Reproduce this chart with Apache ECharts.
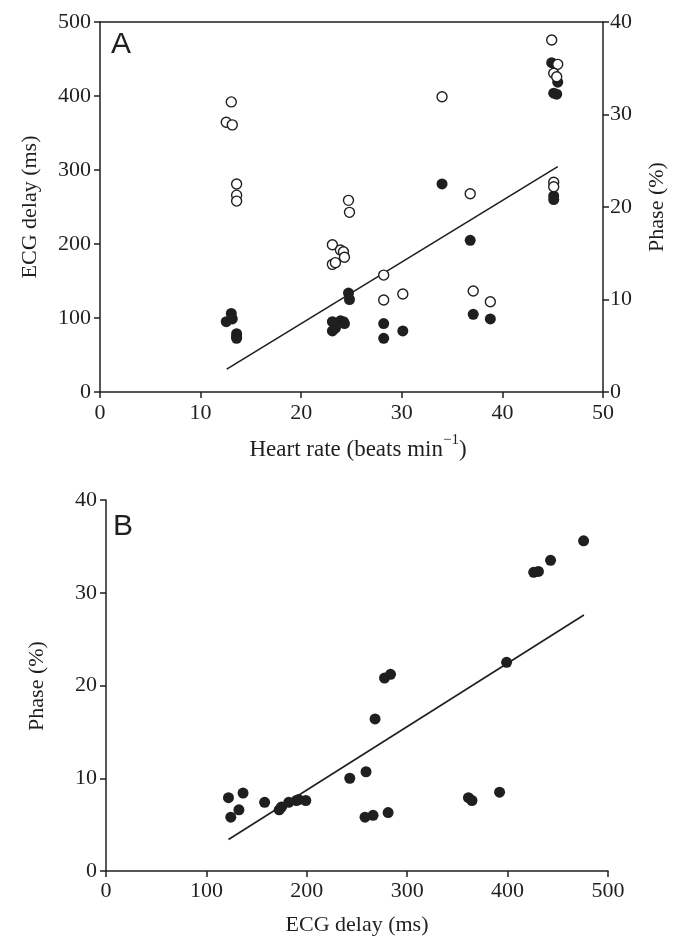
<!DOCTYPE html>
<html><head><meta charset="utf-8">
<script src="https://cdn.jsdelivr.net/npm/echarts@6/dist/echarts.min.js"></script>
<style>html,body{margin:0;padding:0;background:#fff}#c{width:683px;height:947px}</style>
</head><body><div id="c"></div>
<script>
// Individuals: heart rate, ECG delay (ms), phase (%)
const heartRate = [13.05,12.55,13.15,13.58,13.58,13.58, 23.1,23.4,23.1,23.9,24.2,24.3, 24.7,24.8, 28.2,28.2, 30.1, 34.0, 36.8, 37.1, 38.8, 44.9,45.5,45.1,45.4,45.1,45.1];
const ecgDelay  = [392,364.5,361,281,266,258, 172.5,174.8,199,191.9,189.6,182, 259,242.8, 158,124.3, 132.4, 399, 268, 136.5, 122, 475.7,442.8,430.7,426,283.4,277.4];
const phase     = [8.5,7.6,7.9,6.3,6.0,5.8, 6.6,6.9,7.6,7.7,7.6,7.4, 10.7,10.0, 7.4,5.8, 6.6, 22.5, 16.4, 8.4, 7.9, 35.6,33.5,32.3,32.2,21.2,20.8];
// regression lines
const fitAx = [12.6, 45.5], fitAy = [31, 304.5];
const fitBx = [122, 476],   fitBy = [3.4, 27.6];
// ticks
const ticksHR = [0,10,20,30,40,50];
const ticksECG = [0,100,200,300,400,500];
const ticksPhase = [0,10,20,30,40];

const SERIF = 'Liberation Serif';
const INK = '#1f1f1f';
const pairs = (a,b)=>a.map((v,i)=>[v,b[i]]);

function ax(ticks, extra, margin){
  return Object.assign({
    type:'value', min:ticks[0], max:ticks[ticks.length-1], interval:ticks[1]-ticks[0],
    axisLine:{show:true,onZero:false,lineStyle:{color:INK,width:1.5}},
    axisTick:{show:true,inside:false,length:6,lineStyle:{color:INK,width:1.5}},
    axisLabel:{fontFamily:SERIF,fontSize:22,color:INK,margin:margin||8},
    splitLine:{show:false}
  }, extra||{});
}

const chart = echarts.init(document.getElementById('c'), null, {renderer:'canvas'});
chart.setOption({
  backgroundColor:'#fff',
  animation:false,
  grid:[
    {left:100, top:22, width:503, height:370},
    {left:106, top:500, width:502, height:371}
  ],
  xAxis:[
    ax(ticksHR,{gridIndex:0, position:'bottom'},10),
    ax(ticksHR,{gridIndex:0, position:'top', axisTick:{show:false}, axisLabel:{show:false}}),
    ax(ticksECG,{gridIndex:1, position:'bottom'},9)
  ],
  yAxis:[
    ax(ticksECG,{gridIndex:0, position:'left'},9),
    ax(ticksPhase,{gridIndex:0, position:'right'},7),
    ax(ticksPhase,{gridIndex:1, position:'left'},9)
  ],
  series:[
    {type:'line', xAxisIndex:0, yAxisIndex:0, data:pairs(fitAx,fitAy), symbol:'none', lineStyle:{color:INK,width:1.6}, z:1},
    {type:'scatter', xAxisIndex:0, yAxisIndex:1, data:pairs(heartRate,phase), symbol:'circle', symbolSize:11, itemStyle:{color:INK, opacity:1}, z:2},
    {type:'scatter', xAxisIndex:0, yAxisIndex:0, data:pairs(heartRate,ecgDelay), symbol:'circle', symbolSize:10, itemStyle:{color:'#fff', borderColor:INK, borderWidth:1.4, opacity:1}, z:3},
    {type:'line', xAxisIndex:2, yAxisIndex:2, data:pairs(fitBx,fitBy), symbol:'none', lineStyle:{color:INK,width:1.6}, z:1},
    {type:'scatter', xAxisIndex:2, yAxisIndex:2, data:pairs(ecgDelay,phase), symbol:'circle', symbolSize:11, itemStyle:{color:INK, opacity:1}, z:2}
  ],
  graphic:[
    {type:'text', left:111, top:30, style:{text:'A', font:'30px "Liberation Sans"', fill:INK}},
    {type:'text', left:113, top:512, style:{text:'B', font:'30px "Liberation Sans"', fill:INK}},
    {type:'text', x:30, y:207, rotation:Math.PI/2, style:{text:'ECG delay (ms)', font:'22px "Liberation Serif"', fill:INK, align:'center', verticalAlign:'middle'}},
    {type:'text', x:657, y:207, rotation:Math.PI/2, style:{text:'Phase (%)', font:'22px "Liberation Serif"', fill:INK, align:'center', verticalAlign:'middle'}},
    {type:'text', x:358, y:447, style:{
      text:'{a|Heart rate (beats min}{s|−1}{a|)}', align:'center', verticalAlign:'middle',
      rich:{a:{fontFamily:SERIF,fontSize:23,fill:INK,lineHeight:28,verticalAlign:'bottom'}, s:{fontFamily:SERIF,fontSize:15,fill:INK,lineHeight:28,verticalAlign:'top'}}
    }},
    {type:'text', x:37, y:686, rotation:Math.PI/2, style:{text:'Phase (%)', font:'22px "Liberation Serif"', fill:INK, align:'center', verticalAlign:'middle'}},
    {type:'text', x:357, y:925, style:{text:'ECG delay (ms)', font:'22px "Liberation Serif"', fill:INK, align:'center', verticalAlign:'middle'}}
  ]
});
</script></body></html>
